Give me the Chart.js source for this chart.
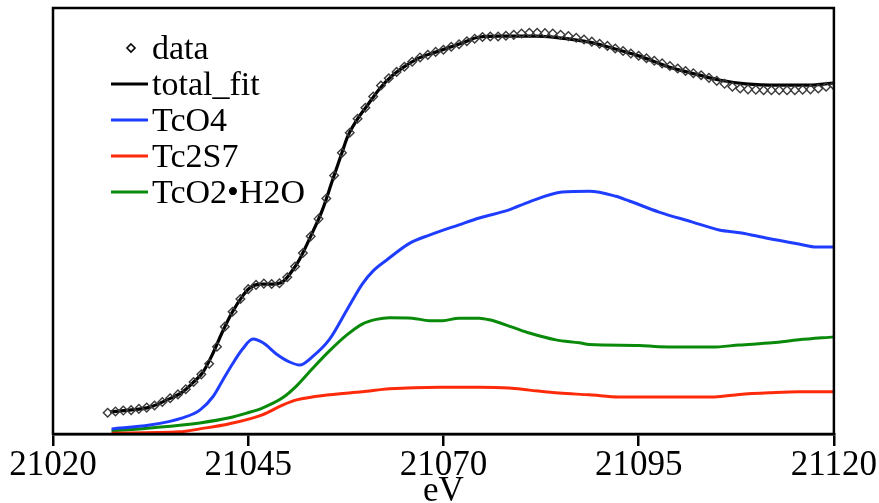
<!DOCTYPE html>
<html>
<head>
<meta charset="utf-8">
<script src="https://cdn.jsdelivr.net/npm/chart.js@4/dist/chart.umd.min.js"></script>
<style>
  html, body { margin: 0; padding: 0; background: #fff; }
  #wrap { width: 879px; height: 503px; position: relative; }
</style>
</head>
<body>
<div id="wrap"><canvas id="c" width="879" height="503"></canvas></div>
<script>
// ---- data ----
const tickValues = [21020, 21045, 21070, 21095, 21120];
const xTitle = 'eV';
const seriesNames = ['data', 'total_fit', 'TcO4', 'Tc2S7', 'TcO2\u2022H2O'];

const dataEnergy = [21027,21028,21029,21030,21031,21032,21033,21034,21035,21036,
  21037,21038,21039,21040,21041,21042,21043,21044,21045,21046,
  21047,21048,21049,21050,21051,21052,21053,21054,21055,21056,
  21057,21058,21059,21060,21061,21062,21063,21064,21065,21066,
  21067,21068,21069,21070,21071,21072,21073,21074,21075,21076,
  21077,21078,21079,21080,21081,21082,21083,21084,21085,21086,
  21087,21088,21089,21090,21091,21092,21093,21094,21095,21096,
  21097,21098,21099,21100,21101,21102,21103,21104,21105,21106,
  21107,21108,21109,21110,21111,21112,21113,21114,21115,21116,
  21117,21118,21119,21120];
const dataValues = [0.050,0.053,0.055,0.056,0.059,0.062,0.067,0.075,0.084,0.093,
  0.105,0.122,0.140,0.165,0.205,0.252,0.287,0.317,0.340,0.350,
  0.353,0.352,0.354,0.368,0.393,0.425,0.464,0.505,0.553,0.607,
  0.660,0.707,0.740,0.766,0.792,0.818,0.835,0.850,0.862,0.874,
  0.884,0.890,0.897,0.902,0.909,0.915,0.922,0.928,0.932,0.933,
  0.933,0.935,0.937,0.940,0.942,0.942,0.941,0.940,0.937,0.934,
  0.930,0.926,0.921,0.916,0.911,0.905,0.899,0.893,0.888,0.882,
  0.876,0.870,0.864,0.858,0.852,0.847,0.842,0.836,0.829,0.822,
  0.815,0.811,0.809,0.808,0.807,0.807,0.807,0.807,0.807,0.808,
  0.809,0.811,0.815,0.818];

const fitEnergy = [21027.3,21029.8,21032.4,21034.6,21036.6,21037.9,21039.2,21040.5,21041.6,21042.9,
  21044.2,21045.2,21046.5,21048.1,21049.4,21050.7,21051.6,21053.2,21054.5,21055.8,
  21057.0,21057.7,21058.9,21060.2,21061.8,21063.5,21065.3,21066.9,21069.1,21072.4,
  21074.6,21077.2,21081.9,21084.8,21088.7,21091.6,21095.1,21099.3,21102.7,21105.3,
  21108.7,21113.0,21116.8,21120.0];
const fitValues = [0.052,0.056,0.063,0.080,0.099,0.120,0.145,0.190,0.236,0.284,
  0.322,0.343,0.352,0.352,0.357,0.385,0.411,0.472,0.526,0.596,
  0.660,0.697,0.737,0.770,0.810,0.842,0.866,0.883,0.897,0.918,
  0.932,0.934,0.934,0.930,0.920,0.906,0.887,0.859,0.843,0.831,
  0.822,0.819,0.819,0.824];

const tco4Energy = [21027.5,21032.4,21036.6,21038.8,21040.5,21041.7,21043.0,21044.3,21045.6,21046.9,
  21048.6,21050.3,21051.6,21053.2,21055.4,21057.6,21059.6,21061.0,21062.7,21065.7,
  21068.2,21072.0,21074.6,21078.4,21081.0,21085.2,21088.7,21092.1,21093.8,21097.6,
  21101.8,21105.3,21108.2,21111.3,21115.5,21117.8,21120.0];
const tco4Values = [0.012,0.021,0.038,0.056,0.088,0.125,0.165,0.200,0.223,0.214,
  0.188,0.169,0.162,0.181,0.222,0.290,0.352,0.383,0.408,0.448,
  0.467,0.491,0.507,0.526,0.545,0.568,0.570,0.558,0.547,0.521,
  0.498,0.479,0.472,0.460,0.446,0.439,0.439];

const tc2s7Energy = [21027.5,21036.2,21038.8,21042.6,21046.8,21049.4,21051.2,21055.4,21059.6,21063.1,
  21069.5,21074.6,21078.4,21081.0,21084.8,21088.7,21092.5,21104.7,21107.9,21112.0,
  21115.5,21120.0];
const tc2s7Values = [0.002,0.005,0.012,0.024,0.045,0.068,0.080,0.092,0.099,0.106,
  0.110,0.110,0.108,0.103,0.096,0.092,0.087,0.087,0.093,0.097,
  0.099,0.099];

const tco2Energy = [21027.5,21032.4,21038.8,21042.6,21044.8,21046.8,21049.4,21051.2,21053.2,21055.4,
  21057.6,21059.6,21061.4,21063.1,21066.0,21068.2,21069.9,21072.0,21074.6,21075.9,
  21078.8,21081.0,21084.4,21087.4,21088.7,21095.1,21097.6,21104.4,21107.9,21112.1,
  21115.5,21120.0];
const tco2Values = [0.007,0.014,0.026,0.038,0.049,0.061,0.085,0.113,0.153,0.195,
  0.232,0.258,0.269,0.273,0.272,0.266,0.266,0.272,0.272,0.268,
  0.251,0.237,0.221,0.214,0.210,0.208,0.205,0.204,0.209,0.214,
  0.221,0.228];

const colors = { data: '#3a3a3a', fit: '#000000', tco4: '#1f3dff', tc2s7: '#ff2a0a', tco2: '#0a8a0a' };

function pts(xs, ys) { return xs.map((x, i) => ({ x: x, y: ys[i] })); }

const FONT = "'Liberation Serif', 'Times New Roman', serif";

const framePlugin = {
  id: 'frame',
  afterDraw(chart) {
    const { ctx, chartArea: a } = chart;
    ctx.save();
    ctx.strokeStyle = '#000';
    ctx.lineWidth = 2.5;
    ctx.strokeRect(a.left, a.top, a.right - a.left, a.bottom - a.top);
    ctx.restore();
  }
};

const legendPlugin = {
  id: 'innerLegend',
  afterDraw(chart) {
    const { ctx, chartArea: a } = chart;
    const x0 = a.left + 58, lineLen = 37, textX = a.left + 99;
    const y0 = a.top + 42, step = 36;
    ctx.save();
    ctx.font = '34px ' + FONT;
    ctx.textBaseline = 'middle';
    ctx.fillStyle = '#000';
    chart.data.datasets.forEach((ds, i) => {
      const y = y0 + i * step;
      if (ds.pointRadius > 0) {
        const cx = a.left + 78, cy = y - 2, r = 4;
        ctx.beginPath();
        ctx.moveTo(cx, cy - r); ctx.lineTo(cx + r, cy); ctx.lineTo(cx, cy + r); ctx.lineTo(cx - r, cy); ctx.closePath();
        ctx.strokeStyle = '#000'; ctx.lineWidth = 1.6; ctx.stroke();
      } else {
        ctx.beginPath();
        ctx.moveTo(x0, y - 2); ctx.lineTo(x0 + lineLen, y - 2);
        ctx.strokeStyle = ds.borderColor; ctx.lineWidth = 3; ctx.stroke();
      }
      ctx.fillText(ds.label, textX, y);
    });
    ctx.restore();
  }
};

new Chart(document.getElementById('c'), {
  type: 'line',
  data: {
    datasets: [
      { label: seriesNames[0], data: pts(dataEnergy, dataValues), showLine: false,
        pointStyle: 'rectRot', pointRadius: 4.3, borderColor: colors.data, borderWidth: 1.4,
        backgroundColor: 'rgba(0,0,0,0)' },
      { label: seriesNames[1], data: pts(fitEnergy, fitValues), borderColor: colors.fit, borderWidth: 3.2,
        pointRadius: 0, cubicInterpolationMode: 'monotone' },
      { label: seriesNames[2], data: pts(tco4Energy, tco4Values), borderColor: colors.tco4, borderWidth: 3,
        pointRadius: 0, cubicInterpolationMode: 'monotone' },
      { label: seriesNames[3], data: pts(tc2s7Energy, tc2s7Values), borderColor: colors.tc2s7, borderWidth: 3,
        pointRadius: 0, cubicInterpolationMode: 'monotone' },
      { label: seriesNames[4], data: pts(tco2Energy, tco2Values), borderColor: colors.tco2, borderWidth: 3,
        pointRadius: 0, cubicInterpolationMode: 'monotone' }
    ]
  },
  options: {
    responsive: false,
    animation: false,
    events: [],
    layout: { padding: { left: 53, right: 44, top: 8, bottom: 0 } },
    plugins: { legend: { display: false }, tooltip: { enabled: false } },
    scales: {
      x: {
        type: 'linear', min: 21020, max: 21120,
        afterBuildTicks(scale) { scale.ticks = tickValues.map(v => ({ value: v })); },
        afterFit(scale) { scale.height = 69; },
        grid: { display: true, drawOnChartArea: false, drawTicks: true, tickLength: 12, color: '#000', lineWidth: 2.5 },
        border: { display: true, color: '#000', width: 2.5 },
        ticks: { color: '#000', font: { family: FONT, size: 35, lineHeight: 1.0 }, padding: 2, maxRotation: 0,
          callback: v => String(v) },
        title: { display: true, text: xTitle, color: '#000', font: { family: FONT, size: 35, lineHeight: 1.0 },
          padding: { top: 0, bottom: -6 } }
      },
      y: { type: 'linear', display: false, min: 0, max: 1 }
    }
  },
  plugins: [framePlugin, legendPlugin]
});
</script>
</body>
</html>
